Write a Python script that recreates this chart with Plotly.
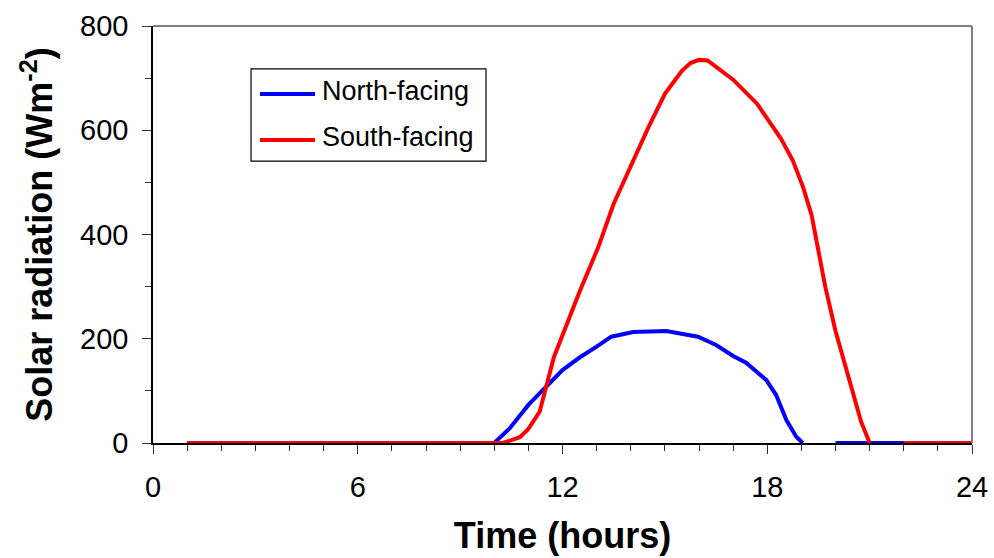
import plotly.graph_objects as go

# Hourly/sub-hourly solar radiation on the two slopes (W m-2); None marks missing records
north_hours = [1, 2, 3, 4, 5, 6, 7, 8, 9, 10.0, 10.45, 11.0, 12.0, 12.5, 13.0, 13.43, 14.07,
               14.65, 15.04, 15.97, 16.5, 17.0, 17.38, 17.97, 18.26, 18.56, 18.85, 19.04,
               19.5, 20, 21, 22, 23, 24]
north_values = [0, 0, 0, 0, 0, 0, 0, 0, 0, 0, 28, 73, 140, 164, 185, 204, 213,
                215, 215, 204, 188, 167, 154, 121, 92, 44, 12, 0,
                None, 0, 0, 0, 0, 0]

south_hours = [1, 2, 3, 4, 5, 6, 7, 8, 9, 10, 10.25, 10.75, 11.0, 11.33, 11.75, 12.5, 13.05,
               13.5, 13.9, 14.5, 15.0, 15.25, 15.5, 15.75, 16.0, 16.25, 17.0, 17.7, 18.0,
               18.4, 18.75, 19.05, 19.3, 19.5, 19.7, 20.0, 20.5, 20.75, 21.0, 21.5, 22, 23, 24]
south_values = [0, 0, 0, 0, 0, 0, 0, 0, 0, 0, 0, 11, 27, 60, 165, 290, 376,
                459, 517, 603, 670, 691, 714, 729, 735, 734, 697, 651, 622,
                584, 542, 491, 437, 364, 300, 215, 95, 41, 0, None, 0, 0, 0]

series_names = ["North-facing", "South-facing"]
series_colors = ["#0000FF", "#FF0000"]

x_ticks = [0, 6, 12, 18, 24]
y_ticks = [0, 200, 400, 600, 800]

FONT = "Arial, 'Liberation Sans', sans-serif"

fig = go.Figure()
for hrs, vals, name, color in [(north_hours, north_values, series_names[0], series_colors[0]),
                               (south_hours, south_values, series_names[1], series_colors[1])]:
    fig.add_trace(go.Scatter(x=hrs, y=vals, mode="lines", name=name,
                             line=dict(color=color, width=4), connectgaps=False,
                             showlegend=False))

axis_common = dict(
    showgrid=False, zeroline=False, showline=True, linecolor="#000000", linewidth=1.5,
    ticks="outside", ticklen=9, tickwidth=1.2, tickcolor="#333333",
    tickfont=dict(family=FONT, size=29, color="#000000"),
)

fig.update_xaxes(
    range=[0, 24], tickmode="array", tickvals=x_ticks, ticktext=[str(t) for t in x_ticks],
    minor=dict(dtick=1, tick0=0, ticks="outside", ticklen=6, tickcolor="#333333", tickwidth=1.2),
    ticklabelstandoff=8,
    title=dict(text="<b>Time (hours)</b>", font=dict(family=FONT, size=36, color="#000000"),
               standoff=21),
    **axis_common,
)
fig.update_yaxes(
    range=[0, 800], tickmode="array", tickvals=y_ticks, ticktext=[str(t) for t in y_ticks],
    minor=dict(dtick=100, tick0=0, ticks="outside", ticklen=6, tickcolor="#333333", tickwidth=1.2),
    ticklabelstandoff=8,
    title=dict(text="<b>Solar radiation (Wm<sup>-2</sup>)</b>",
               font=dict(family=FONT, size=36, color="#000000"), standoff=16),
    **axis_common,
)

# Grey frame on the top and right sides of the plotting area
fig.add_shape(type="line", xref="paper", yref="paper", x0=0, x1=1, y0=1, y1=1,
              line=dict(color="#808080", width=2))
fig.add_shape(type="line", xref="paper", yref="paper", x0=1, x1=1, y0=0, y1=1,
              line=dict(color="#808080", width=2))

# Boxed key in the upper-left part of the plot
key_box = dict(x0=0.1197, x1=0.4066, y0=0.676, y1=0.897)
fig.add_shape(type="rect", xref="paper", yref="paper", **key_box,
              line=dict(color="#000000", width=1.2), fillcolor="rgba(0,0,0,0)")
key_rows = [0.837, 0.7266]
for name, color, ky in zip(series_names, series_colors, key_rows):
    fig.add_shape(type="line", xref="paper", yref="paper", x0=0.1306, x1=0.1978, y0=ky, y1=ky,
                  line=dict(color=color, width=4))
    fig.add_annotation(xref="paper", yref="paper", x=0.2039, y=ky, text=name,
                       showarrow=False, xanchor="left", yanchor="middle", yshift=3,
                       font=dict(family=FONT, size=27, color="#000000"))

fig.update_layout(
    width=994, height=558,
    margin=dict(l=153, r=22, t=26, b=115, autoexpand=False),
    paper_bgcolor="#FFFFFF", plot_bgcolor="#FFFFFF",
    showlegend=False,
)

fig.write_html("out.html")
